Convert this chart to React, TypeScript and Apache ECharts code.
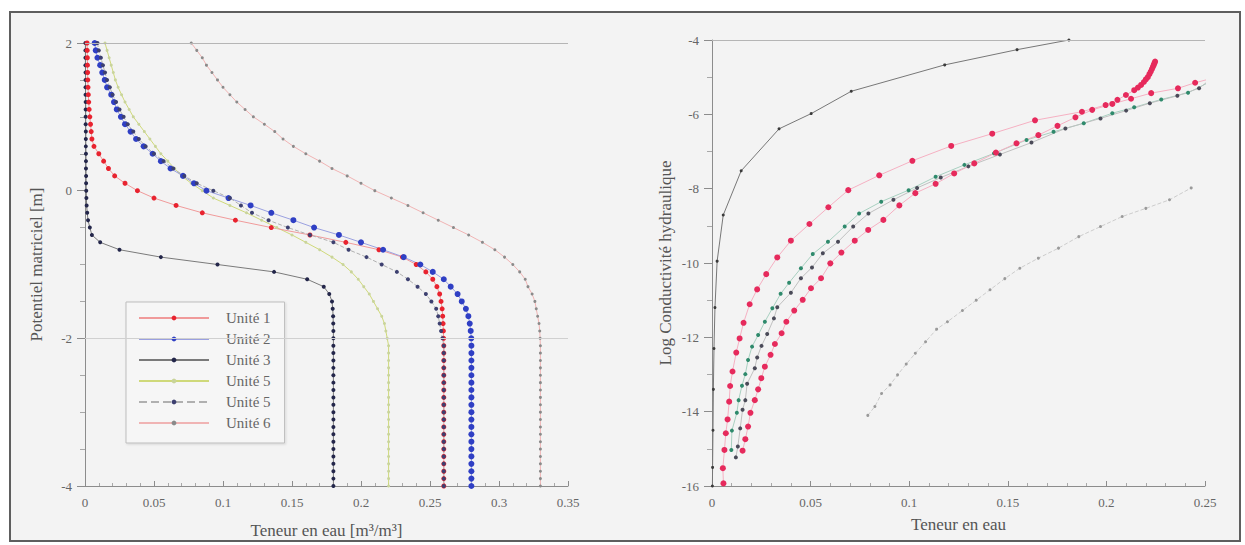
import { useEffect, useRef } from "react";
import * as echarts from "echarts";

// ---------- Left chart: potentiel matriciel h [m] vs teneur en eau θ ----------
const H_LEVELS = [
  2, 1.9, 1.8, 1.7, 1.6, 1.5, 1.4, 1.3, 1.2, 1.1, 1, 0.9, 0.8, 0.7, 0.6, 0.5, 0.4, 0.3, 0.2, 0.1, 0,
  -0.1, -0.2, -0.3, -0.4, -0.5, -0.6, -0.7, -0.8, -0.9, -1, -1.1, -1.2, -1.3, -1.4, -1.5, -1.6, -1.7, -1.8, -1.9, -2,
  -2.1, -2.2, -2.3, -2.4, -2.5, -2.6, -2.7, -2.8, -2.9, -3, -3.1, -3.2, -3.3, -3.4, -3.5, -3.6, -3.7, -3.8, -3.9, -4,
];

const THETA_U1 = [
  0.0015, 0.0016, 0.0017, 0.0018, 0.0019, 0.002, 0.0022, 0.0024, 0.0027, 0.003, 0.0035, 0.004, 0.0045, 0.005, 0.0065, 0.01, 0.0135, 0.017, 0.0215, 0.029, 0.038,
  0.05, 0.066, 0.085, 0.109, 0.135, 0.163, 0.189, 0.213, 0.23, 0.24, 0.247, 0.252, 0.255, 0.257, 0.258, 0.2588, 0.2592, 0.2595, 0.2597, 0.2599,
  0.26, 0.26, 0.26, 0.26, 0.26, 0.26, 0.26, 0.26, 0.26, 0.26, 0.26, 0.26, 0.26, 0.26, 0.26, 0.26, 0.26, 0.26, 0.26, 0.26,
];
const THETA_U2 = [
  0.007, 0.0078, 0.009, 0.011, 0.0125, 0.0143, 0.016, 0.019, 0.021, 0.023, 0.026, 0.029, 0.033, 0.037, 0.0425, 0.049, 0.055, 0.062, 0.071, 0.079, 0.088,
  0.104, 0.12, 0.135, 0.151, 0.166, 0.184, 0.2, 0.216, 0.231, 0.243, 0.252, 0.26, 0.265, 0.27, 0.273, 0.276, 0.2778, 0.2788, 0.2795, 0.2799,
  0.28, 0.28, 0.28, 0.28, 0.28, 0.28, 0.28, 0.28, 0.28, 0.28, 0.28, 0.28, 0.28, 0.28, 0.28, 0.28, 0.28, 0.28, 0.28, 0.28,
];
const THETA_U3 = [
  0.0003, 0.0003, 0.0003, 0.0003, 0.0004, 0.0004, 0.0004, 0.0004, 0.0005, 0.0005, 0.0005, 0.0005, 0.0006, 0.0006, 0.0006, 0.0007, 0.0007, 0.0007, 0.0008, 0.0008, 0.0009,
  0.001, 0.0012, 0.0016, 0.0022, 0.0035, 0.005, 0.011, 0.025, 0.055, 0.096, 0.137, 0.161, 0.173, 0.177, 0.179, 0.1795, 0.1798, 0.1799, 0.18, 0.18,
  0.18, 0.18, 0.18, 0.18, 0.18, 0.18, 0.18, 0.18, 0.18, 0.18, 0.18, 0.18, 0.18, 0.18, 0.18, 0.18, 0.18, 0.18, 0.18, 0.18,
];
const THETA_U5A = [
  0.0145, 0.016, 0.0175, 0.019, 0.0205, 0.022, 0.024, 0.0265, 0.029, 0.032, 0.035, 0.039, 0.043, 0.047, 0.051, 0.055, 0.06, 0.065, 0.07, 0.077, 0.085,
  0.093, 0.105, 0.117, 0.128, 0.139, 0.15, 0.16, 0.17, 0.179, 0.187, 0.193, 0.198, 0.202, 0.206, 0.209, 0.212, 0.215, 0.217, 0.218, 0.219,
  0.22, 0.22, 0.22, 0.22, 0.22, 0.22, 0.22, 0.22, 0.22, 0.22, 0.22, 0.22, 0.22, 0.22, 0.22, 0.22, 0.22, 0.22, 0.22, 0.22,
];
const THETA_U5B = [
  0.009, 0.01, 0.0115, 0.013, 0.0145, 0.016, 0.018, 0.02, 0.0225, 0.025, 0.028, 0.031, 0.035, 0.039, 0.044, 0.05, 0.057, 0.064, 0.072, 0.081, 0.093,
  0.105, 0.113, 0.121, 0.133, 0.147, 0.163, 0.18, 0.191, 0.204, 0.215, 0.226, 0.234, 0.241, 0.247, 0.251, 0.2545, 0.256, 0.257, 0.258, 0.259,
  0.26, 0.26, 0.26, 0.26, 0.26, 0.26, 0.26, 0.26, 0.26, 0.26, 0.26, 0.26, 0.26, 0.26, 0.26, 0.26, 0.26, 0.26, 0.26, 0.26,
];
const THETA_U6 = [
  0.077, 0.081, 0.085, 0.088, 0.092, 0.096, 0.1, 0.105, 0.11, 0.116, 0.122, 0.13, 0.1375, 0.1435, 0.151, 0.16, 0.17, 0.179, 0.19, 0.2, 0.21,
  0.222, 0.234, 0.245, 0.256, 0.267, 0.278, 0.288, 0.297, 0.304, 0.31, 0.315, 0.319, 0.321, 0.324, 0.326, 0.327, 0.328, 0.329, 0.3295, 0.3298,
  0.33, 0.33, 0.33, 0.33, 0.33, 0.33, 0.33, 0.33, 0.33, 0.33, 0.33, 0.33, 0.33, 0.33, 0.33, 0.33, 0.33, 0.33, 0.33, 0.33,
];

const LEFT_X_TICKS = [0, 0.35, 0.05];
const LEFT_Y_TICKS = [-4, 2, 2];
const LEFT_REF_LINES = [2, -2];

// ---------- Right chart: log conductivité hydraulique vs teneur en eau ----------
const K_A = [
  [0.0002, -16], [0.0003, -15.5], [0.0005, -14.5], [0.0007, -13.4], [0.001, -12.3], [0.0015, -11.2], [0.0026, -9.95],
  [0.0057, -8.71], [0.0148, -7.52], [0.034, -6.39], [0.0503, -5.98], [0.0706, -5.38], [0.118, -4.67], [0.1547, -4.26], [0.181, -4.0],
];
const K_B = [
  [0.0058, -15.93], [0.0055, -15.52], [0.0063, -15.03], [0.007, -14.58], [0.0079, -14.21], [0.0087, -13.73], [0.0092, -13.31],
  [0.0104, -12.92], [0.0123, -12.41], [0.014, -12.03], [0.016, -11.61], [0.0191, -11.11], [0.0229, -10.71], [0.0275, -10.3],
  [0.0331, -9.85], [0.04, -9.4], [0.0494, -8.95], [0.059, -8.5], [0.0691, -8.04], [0.0848, -7.64], [0.1016, -7.25],
  [0.1213, -6.85], [0.1421, -6.52], [0.1638, -6.16], [0.1876, -5.93], [0.1996, -5.75], [0.2056, -5.61], [0.2099, -5.48],
  [0.2141, -5.35], [0.216, -5.28], [0.2176, -5.21], [0.219, -5.13], [0.22, -5.06], [0.221, -5.0], [0.2218, -4.92],
  [0.2225, -4.85], [0.2231, -4.78], [0.2236, -4.72], [0.224, -4.67], [0.2244, -4.62], [0.2247, -4.58],
];
const K_C = [
  [0.0155, -15.05], [0.0169, -14.74], [0.0183, -14.4], [0.0195, -14.03], [0.0217, -13.69], [0.0234, -13.4], [0.025, -13.1],
  [0.0268, -12.79], [0.0297, -12.47], [0.0319, -12.18], [0.0353, -11.89], [0.0377, -11.58], [0.0417, -11.28], [0.046, -10.99],
  [0.0502, -10.68], [0.0553, -10.41], [0.06, -10.01], [0.0656, -9.72], [0.0724, -9.4], [0.0792, -9.11], [0.0869, -8.84],
  [0.095, -8.45], [0.1031, -8.12], [0.1134, -7.87], [0.1228, -7.59], [0.133, -7.32], [0.144, -7.03], [0.1544, -6.78],
  [0.1655, -6.56], [0.1752, -6.31], [0.1843, -6.08], [0.1928, -5.88], [0.203, -5.72], [0.2125, -5.58], [0.2227, -5.43],
  [0.2363, -5.3], [0.245, -5.15], [0.2515, -5.06],
];
const K_D = [
  [0.0098, -15.03], [0.0101, -14.51], [0.0126, -14.03], [0.0135, -13.69], [0.0152, -13.3], [0.0169, -12.99], [0.0183, -12.61],
  [0.0203, -12.25], [0.0234, -11.94], [0.0268, -11.58], [0.0306, -11.22], [0.0348, -10.83], [0.0391, -10.53], [0.0451, -10.14],
  [0.0511, -9.76], [0.0588, -9.43], [0.0673, -9.02], [0.0746, -8.67], [0.0858, -8.35], [0.0997, -8.04], [0.1134, -7.68],
  [0.128, -7.36], [0.143, -7.05], [0.1595, -6.69], [0.1732, -6.47], [0.1885, -6.24], [0.203, -5.97], [0.2141, -5.81],
  [0.2278, -5.6], [0.2414, -5.42], [0.2508, -5.17],
];
const K_E = [
  [0.0121, -15.23], [0.0131, -14.94], [0.0143, -14.45], [0.0155, -13.95], [0.0169, -13.69], [0.0178, -13.25], [0.0217, -12.83],
  [0.0229, -12.54], [0.0251, -12.23], [0.028, -11.91], [0.0314, -11.49], [0.0331, -11.19], [0.04, -10.8], [0.0451, -10.41],
  [0.0507, -10.12], [0.0562, -9.74], [0.0639, -9.43], [0.0716, -9.02], [0.0793, -8.67], [0.092, -8.3], [0.104, -7.98],
  [0.116, -7.7], [0.13, -7.4], [0.146, -7.08], [0.162, -6.76], [0.1792, -6.38], [0.197, -6.11], [0.21, -5.9],
  [0.222, -5.7], [0.236, -5.5], [0.247, -5.3], [0.2534, -5.03],
];
const K_F = [
  [0.079, -14.1], [0.0826, -13.86], [0.086, -13.51], [0.0903, -13.28], [0.0941, -13.01], [0.0985, -12.72], [0.1031, -12.43],
  [0.1083, -12.12], [0.1139, -11.78], [0.1194, -11.58], [0.127, -11.28], [0.134, -11.0], [0.141, -10.72], [0.1485, -10.42],
  [0.1561, -10.14], [0.1655, -9.87], [0.1757, -9.6], [0.186, -9.29], [0.197, -9.02], [0.208, -8.75], [0.22, -8.53],
  [0.232, -8.3], [0.243, -7.98],
];

const RIGHT_X_TICKS = [0, 0.25, 0.05];
const RIGHT_Y_TICKS = [-16, -4, 2];
const RIGHT_REF_LINES = [-4];

const LEGEND_NAMES = ["Unité 1", "Unité 2", "Unité 3", "Unité 5a", "Unité 5b", "Unité 6"];

const FONT = "'Liberation Serif', 'Times New Roman', serif";

export default function App() {
  const ref = useRef<HTMLDivElement>(null);

  useEffect(() => {
    if (!ref.current) return;
    const chart = echarts.init(ref.current, null, { renderer: "svg" });
    const pair = (th: number[]) => th.map((t, i) => [t, H_LEVELS[i]]);

    const labelStyle = { color: "#666", fontFamily: FONT, fontSize: 13 };
    const nameStyle = { color: "#555", fontFamily: FONT, fontSize: 17 };

    const bottomX = (grid: number, ticks: number[], name: string, gap: number) => ({
      type: "value",
      gridIndex: grid,
      position: "bottom",
      min: ticks[0],
      max: ticks[1],
      interval: ticks[2],
      axisLine: { show: true, onZero: false, lineStyle: { color: "#8c8c8c", width: 1 } },
      axisTick: { show: true, inside: true, length: 5, lineStyle: { color: "#8c8c8c" } },
      minorTick: { show: true, splitNumber: 5, length: 3, lineStyle: { color: "#a8a8a8" } },
      splitLine: { show: false },
      minorSplitLine: { show: false },
      axisLabel: { ...labelStyle, margin: 10 },
      name,
      nameLocation: "middle",
      nameGap: gap,
      nameTextStyle: nameStyle,
    });
    const leftY = (grid: number, ticks: number[], name: string, gap: number, minor: number) => ({
      type: "value",
      gridIndex: grid,
      position: "left",
      min: ticks[0],
      max: ticks[1],
      interval: ticks[2],
      axisLine: { show: true, onZero: false, lineStyle: { color: "#8c8c8c", width: 1 } },
      axisTick: { show: true, inside: false, length: 8, lineStyle: { color: "#8c8c8c" } },
      minorTick: { show: true, splitNumber: minor, length: 5, lineStyle: { color: "#a8a8a8" } },
      splitLine: { show: false },
      minorSplitLine: { show: false },
      axisLabel: { ...labelStyle, margin: 13 },
      name,
      nameLocation: "middle",
      nameGap: gap,
      nameRotate: 90,
      nameTextStyle: nameStyle,
    });

    const refLines = (values: number[], colors: string[]) => ({
      silent: true,
      symbol: "none",
      label: { show: false },
      data: values.map((v, i) => ({ yAxis: v, lineStyle: { color: colors[i], type: "solid", width: 1 } })),
    });

    const lineS = (
      name: string,
      data: number[][],
      grid: number,
      color: string,
      lineColor: string,
      size: number,
      lineType: string = "solid",
      extra: any = {}
    ) => ({
      type: "line",
      name,
      xAxisIndex: grid,
      yAxisIndex: grid,
      data,
      symbol: "circle",
      symbolSize: size,
      showSymbol: true,
      showAllSymbol: true,
      smooth: false,
      itemStyle: { color, borderWidth: 0 },
      lineStyle: { color: lineColor, width: 1, type: lineType },
      emphasis: { disabled: true },
      ...extra,
    });

    const option: any = {
      animation: false,
      backgroundColor: "#ffffff",
      textStyle: { fontFamily: FONT },
      graphic: [
        {
          type: "rect",
          z: -10,
          silent: true,
          shape: { x: 10, y: 12, width: 1230, height: 529 },
          style: { fill: "#f3f3f3", stroke: "#5e5e5e", lineWidth: 2 },
        },
      ],
      grid: [
        { left: 85, top: 43, width: 483, height: 443 },
        { left: 712, top: 40, width: 493, height: 446 },
      ],
      xAxis: [
        bottomX(0, LEFT_X_TICKS, "Teneur en eau [m³/m³]", 36),
        bottomX(1, RIGHT_X_TICKS, "Teneur en eau", 30),
      ],
      yAxis: [
        leftY(0, LEFT_Y_TICKS, "Potentiel matriciel [m]", 40, 4),
        leftY(1, RIGHT_Y_TICKS, "Log Conductivité hydraulique", 38, 2),
      ],
      legend: {
        data: LEGEND_NAMES,
        orient: "vertical",
        left: 126,
        top: 302,
        padding: [8, 14, 12, 12],
        itemWidth: 70,
        itemHeight: 6,
        itemGap: 5,
        borderColor: "#bdbdbd",
        borderWidth: 1,
        backgroundColor: "#f6f6f6",
        shadowColor: "rgba(0,0,0,0.12)",
        shadowBlur: 2,
        shadowOffsetX: 1,
        shadowOffsetY: 1,
        selectedMode: false,
        formatter: (n: string) => n.replace(/[ab]$/, ""),
        textStyle: { color: "#666", fontFamily: FONT, fontSize: 15, lineHeight: 16, padding: [0, 0, 0, 12] },
      },
      series: [
        lineS("Unité 6", pair(THETA_U6), 0, "#8a8a8a", "#f0b4b4", 3, "solid", {
          markLine: refLines(LEFT_REF_LINES, ["#b5b5b5", "#d0d0d0"]),
        }),
        lineS("Unité 5a", pair(THETA_U5A), 0, "#c9d49a", "#cfd97a", 3),
        lineS("Unité 3", pair(THETA_U3), 0, "#23264a", "#7a7a7a", 4),
        lineS("Unité 1", pair(THETA_U1), 0, "#e8232f", "#f09a9a", 5),
        lineS("Unité 2", pair(THETA_U2), 0, "#2f3fc4", "#9aa0e0", 6),
        lineS("Unité 5b", pair(THETA_U5B), 0, "#3d4070", "#b0b0b0", 4, "dashed"),

        lineS("K Unité 6", K_F, 1, "#9a9a9a", "#cccccc", 3, "dashed", {
          markLine: refLines(RIGHT_REF_LINES, ["#b5b5b5"]),
        }),
        lineS("K Unité 3", K_A, 1, "#3a3a3a", "#777777", 3),
        lineS("K Unité 5a", K_D, 1, "#2f8a6c", "#a8d0c0", 4),
        lineS("K Unité 5b", K_E, 1, "#4a4a58", "#c0c0c0", 4),
        lineS("K Unité 2", K_C, 1, "#e62a5c", "#f5b0c2", 6),
        lineS("K Unité 1", K_B, 1, "#e62a5c", "#f5b0c2", 6),
      ],
    };

    chart.setOption(option);
    return () => chart.dispose();
  }, []);

  return (
    <div
      ref={ref}
      style={{ position: "fixed", left: 0, top: 0, width: 1245, height: 545, background: "#ffffff" }}
    />
  );
}
